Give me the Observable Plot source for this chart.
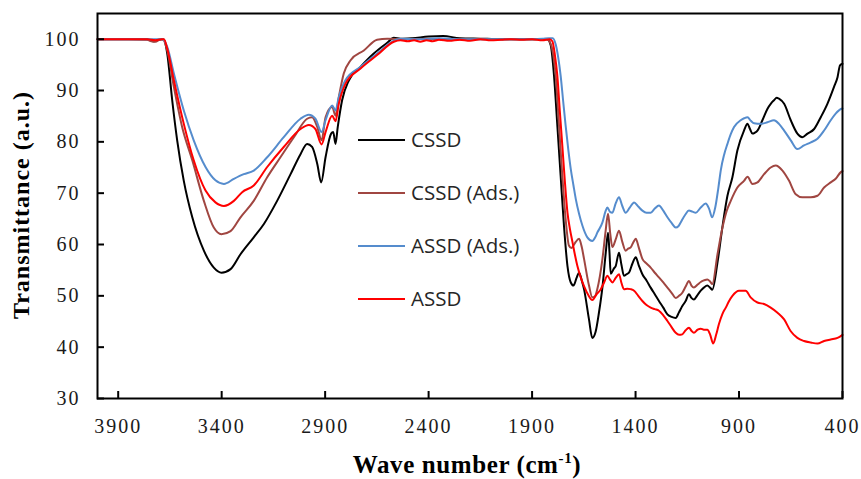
<!DOCTYPE html>
<html><head><meta charset="utf-8">
<script src="https://cdn.jsdelivr.net/npm/d3@7"></script>
<script src="https://cdn.jsdelivr.net/npm/@observablehq/plot@0.6"></script>
<style>
body{margin:0;background:#fff}
#chart{position:relative;width:861px;height:479px}
#chart svg text.tick-num{font-family:"Liberation Serif","Times New Roman",serif !important;letter-spacing:2px;font-size:20px}
</style>
</head><body><div id="chart"></div>
<script>
const seriesNames = ["CSSD", "CSSD (Ads.)", "ASSD (Ads.)", "ASSD"];
const seriesColors = ["#000000", "#A04641", "#558CCD", "#FF0000"];
const xTicks = [3900, 3400, 2900, 2400, 1900, 1400, 900, 400];
const yTicks = [30, 40, 50, 60, 70, 80, 90, 100];

// [wave number, transmittance]
const cssd = [[4000,100],[3850,100],[3760,100],[3740,99.7],[3725,99.6],[3705,99.9],[3690,100],[3679,99.9],[3663,97.2],[3639,88.1],[3615,80.3],[3583,72.4],[3542,65.3],[3486,58.8],[3438,55.5],[3401,54.5],[3357,55.2],[3309,58.1],[3245,61.4],[3196,64.0],[3132,68.5],[3067,73.7],[3019,77.6],[2987,79.6],[2963,79.0],[2938,75.7],[2919,72.1],[2898,77.0],[2871,81.6],[2861,81.9],[2850,79.6],[2839,82.9],[2818,88.1],[2785,92.0],[2729,94.6],[2665,97.2],[2600,99.3],[2568,100.3],[2536,100.1],[2480,100.2],[2400,100.5],[2330,100.6],[2250,100.2],[2150,100.1],[2050,100],[1950,100],[1870,100],[1826,100],[1810,98.8],[1794,92.9],[1778,83.2],[1762,73.4],[1746,63.7],[1729,55.8],[1713,52.6],[1700,52.0],[1685,53.5],[1673,54.5],[1660,53.0],[1649,51.3],[1625,45.4],[1609,41.8],[1593,43.0],[1577,46.7],[1560,51.7],[1544,58.4],[1533,62.3],[1526,58.5],[1520,54.3],[1505,55.3],[1496,55.8],[1480,58.4],[1468,56.0],[1456,53.9],[1444,54.2],[1432,54.5],[1415,56.3],[1399,57.5],[1385,56.0],[1367,54.2],[1347,53.0],[1327,51.6],[1307,50.3],[1287,49.0],[1266,47.7],[1246,46.4],[1226,45.9],[1206,45.7],[1190,46.8],[1174,48.0],[1158,49.0],[1142,50.3],[1130,49.6],[1118,49.3],[1100,50.2],[1085,51.0],[1070,51.6],[1053,52.0],[1040,51.6],[1029,51.2],[1004,56.5],[980,63.5],[956,69.5],[932,73.1],[908,78.3],[876,82.2],[859,83.5],[847,82.5],[835,81.6],[823,81.8],[811,82.2],[787,84.2],[763,86.4],[745,87.5],[731,88.1],[718,88.6],[707,88.4],[682,87.4],[650,84.2],[618,81.6],[594,80.9],[569,81.6],[537,82.5],[505,84.8],[473,87.4],[441,90.7],[424,92.6],[412,94.9],[400,95.2]];

const cssdAds = [[4000,100],[3850,100],[3760,99.9],[3740,99.6],[3720,99.5],[3700,99.9],[3685,100],[3663,97.8],[3631,90.7],[3591,82.9],[3542,76.4],[3486,68.5],[3438,63.3],[3401,62.0],[3357,62.6],[3309,65.3],[3245,68.5],[3180,73.1],[3116,77.0],[3051,80.9],[2987,84.5],[2963,84.8],[2938,82.9],[2917,80.3],[2898,84.8],[2866,86.8],[2850,85.1],[2834,88.7],[2810,93.3],[2777,95.9],[2713,97.8],[2649,99.9],[2600,100.1],[2500,100],[2400,100.1],[2300,99.9],[2200,100],[2100,100],[2000,100],[1900,100],[1830,100],[1815,99.5],[1800,97.5],[1786,92.9],[1770,83.2],[1754,73.4],[1738,65.0],[1722,59.8],[1710,59.3],[1700,59.8],[1689,60.5],[1673,61.1],[1660,59.5],[1649,57.2],[1625,52.0],[1609,49.7],[1595,50.0],[1585,51.3],[1560,57.2],[1545,62.5],[1533,66.0],[1522,62.0],[1512,59.5],[1496,61.0],[1480,62.7],[1464,60.5],[1448,58.8],[1436,59.2],[1424,59.4],[1410,60.5],[1399,61.1],[1385,59.5],[1367,57.2],[1347,56.3],[1327,55.5],[1307,54.5],[1287,53.6],[1266,52.6],[1246,51.6],[1226,50.6],[1206,49.6],[1190,50.0],[1174,50.6],[1158,51.8],[1142,52.9],[1130,52.0],[1118,51.6],[1100,52.2],[1085,52.7],[1070,53.0],[1053,53.2],[1040,52.8],[1029,52.3],[1004,58.1],[980,63.3],[960,66.5],[940,68.5],[908,71.1],[876,72.4],[859,73.2],[835,71.8],[811,72.1],[779,73.7],[747,75.0],[723,75.4],[690,74.4],[658,72.4],[626,69.8],[594,69.2],[553,69.2],[521,69.5],[489,71.1],[457,72.1],[433,72.8],[408,74.1],[400,74.3]];

const assdAds = [[4000,100],[3850,100],[3760,100],[3700,100],[3685,100],[3663,98.5],[3631,93.3],[3583,86.1],[3535,80.3],[3478,75.1],[3430,72.5],[3389,71.8],[3341,72.8],[3293,73.7],[3245,74.4],[3180,77.0],[3100,80.9],[3019,84.5],[2979,85.3],[2947,84.5],[2917,81.9],[2898,84.2],[2866,87.1],[2850,86.1],[2834,88.7],[2802,92.0],[2729,94.6],[2649,97.2],[2568,99.7],[2536,100.1],[2450,100],[2350,100.2],[2250,100],[2150,100],[2050,100],[1950,100],[1850,100.1],[1820,100.2],[1800,100.2],[1786,99.0],[1774,96.5],[1762,92.9],[1750,88.0],[1738,83.2],[1725,78.5],[1713,74.7],[1700,71.5],[1689,68.9],[1673,66.0],[1657,63.7],[1633,61.4],[1609,60.7],[1595,61.4],[1585,62.3],[1560,64.3],[1545,66.5],[1536,67.2],[1524,66.4],[1512,66.2],[1496,68.0],[1480,69.2],[1464,67.5],[1448,66.2],[1428,67.2],[1407,68.2],[1387,67.4],[1367,66.6],[1347,66.2],[1327,66.2],[1307,67.0],[1287,67.6],[1266,66.6],[1246,65.3],[1226,64.2],[1206,63.3],[1192,63.6],[1182,64.3],[1160,65.8],[1142,66.6],[1125,66.4],[1109,66.2],[1085,67.2],[1061,68.0],[1045,67.0],[1030,65.3],[1015,67.2],[1000,71.0],[988,74.5],[972,77.5],[956,79.6],[940,81.5],[924,82.9],[892,84.2],[875,84.6],[859,84.8],[843,84.1],[827,83.6],[795,83.5],[763,83.8],[731,84.2],[707,83.5],[682,82.2],[650,80.3],[618,78.6],[586,79.3],[553,79.9],[521,80.6],[489,82.2],[457,84.2],[433,85.5],[408,86.4],[400,86.5]];

const assd = [[4000,100],[3850,100],[3760,100],[3720,99.8],[3690,100],[3679,100],[3663,98.2],[3631,92.0],[3583,83.5],[3535,76.4],[3478,70.5],[3430,68.2],[3389,67.5],[3341,68.5],[3301,70.2],[3245,71.5],[3180,75.1],[3100,79.0],[3019,82.5],[2979,83.3],[2947,82.5],[2917,79.5],[2898,81.9],[2866,85.1],[2850,84.0],[2834,87.4],[2802,91.3],[2729,94.3],[2649,96.9],[2568,99.5],[2536,99.8],[2500,99.6],[2470,99.8],[2440,99.5],[2410,99.8],[2380,99.6],[2350,99.9],[2300,99.7],[2250,99.9],[2200,99.7],[2150,100],[2100,99.8],[2050,99.9],[2000,100],[1950,99.9],[1900,100],[1850,99.8],[1815,100],[1802,99.6],[1790,97.0],[1778,92.9],[1766,86.0],[1754,79.3],[1742,72.5],[1729,66.2],[1717,63.0],[1705,60.5],[1693,58.0],[1681,55.8],[1665,53.6],[1649,51.9],[1629,50.2],[1609,49.2],[1590,50.2],[1568,51.3],[1552,52.6],[1536,53.9],[1524,53.2],[1512,52.6],[1496,53.5],[1480,54.2],[1468,52.5],[1456,51.3],[1440,51.4],[1424,51.3],[1407,51.0],[1387,50.0],[1367,49.0],[1347,48.2],[1327,47.7],[1307,47.4],[1287,47.1],[1266,46.2],[1246,45.1],[1226,43.9],[1206,42.8],[1190,42.4],[1174,42.5],[1158,43.3],[1142,43.8],[1130,43.2],[1118,42.8],[1100,43.4],[1085,43.6],[1070,43.4],[1053,43.4],[1040,42.5],[1025,40.7],[1010,42.5],[997,44.5],[980,46.5],[964,47.7],[948,49.0],[932,50.0],[900,51.0],[868,51.0],[844,49.7],[811,48.7],[779,48.4],[747,47.7],[714,46.7],[682,45.4],[650,43.1],[618,41.8],[586,41.2],[553,40.9],[521,40.7],[489,41.2],[457,41.5],[424,41.8],[400,42.4]];

const seriesData = [cssd, cssdAds, assdAds, assd];
const data = seriesData.flatMap((arr, i) => arr.map(([wn, t]) => ({wn, t, series: seriesNames[i]})));

const tickFont = "'Liberation Serif', 'Times New Roman', serif";
const chart = Plot.plot({
  width: 861, height: 479,
  marginLeft: 97, marginRight: 19, marginTop: 13, marginBottom: 81,
  x: {domain: [4000, 400], label: null},
  y: {domain: [30, 105], label: null},
  color: {domain: seriesNames, range: seriesColors},
  style: {background: "#fff", color: "#1a1a1a"},
  marks: [
    Plot.line(data, {x: "wn", y: "t", stroke: "series", z: "series", strokeWidth: 2, curve: "monotone-x"}),
    Plot.frame({stroke: "#000", strokeWidth: 2}),
    Plot.axisX(xTicks, {tickSize: 0, tickPadding: 20, label: null, fontSize: 20, tickFormat: d => String(d)}),
    Plot.axisX(xTicks, {tickSize: 7, dy: -7, fill: "none", stroke: "#000", strokeWidth: 2, label: null}),
    Plot.axisY(yTicks, {tickSize: 0, tickPadding: 17, label: null, fontSize: 20, tickFormat: d => String(d)}),
    Plot.axisY(yTicks, {tickSize: 7, dx: 7, fill: "none", stroke: "#000", strokeWidth: 2, label: null})
  ]
});
document.getElementById("chart").appendChild(chart);

const svg = d3.select(chart);
svg.attr("font-family", "Liberation Serif");
// Tick labels: serif, widely spaced
svg.selectAll("text").each(function() {
  if (/^\d+$/.test(this.textContent.trim())) {
    d3.select(this).classed("tick-num", true)
      .attr("font-family", "Liberation Serif")
      .style("font-family", "\"Liberation Serif\", serif")
      .style("letter-spacing", "2px").attr("fill", "#1a1a1a");
  }
});
svg.selectAll("g").filter(function() { return /tick label/.test(this.getAttribute("aria-label") || ""); })
  .attr("font-family", "Liberation Serif").style("font-family", "\"Liberation Serif\", serif");

// Legend (in-plot, Excel style)
const legend = {lineX1: 358, lineX2: 405, textX: 411, y0: 140, step: 53};
const lg = svg.append("g").attr("class", "legend").attr("text-anchor", "start");
seriesNames.forEach((name, i) => {
  const y = legend.y0 + i * legend.step;
  lg.append("line").attr("x1", legend.lineX1).attr("x2", legend.lineX2).attr("y1", y).attr("y2", y)
    .attr("stroke", seriesColors[i]).attr("stroke-width", 2);
  lg.append("text").attr("x", legend.textX).attr("y", y).attr("dy", "0.36em").attr("text-anchor", "start")
    .style("font-family", "'Open Sans', sans-serif").style("font-size", "20.5px").style("letter-spacing", "0px")
    .attr("fill", "#262626").text(name);
});

// Axis titles
const xt = svg.append("text").attr("x", 467).attr("y", 473).attr("text-anchor", "middle")
  .style("font-family", tickFont).style("font-size", "25px").style("font-weight", "bold")
  .style("letter-spacing", "0.6px").attr("fill", "#000");
xt.append("tspan").text("Wave number (cm");
xt.append("tspan").attr("dy", -10).style("font-size", "15px").text("-1");
xt.append("tspan").attr("dy", 10).text(")");

svg.append("text").attr("transform", "translate(29,205) rotate(-90)").attr("text-anchor", "middle")
  .style("font-family", tickFont).style("font-size", "24px").style("font-weight", "bold")
  .style("letter-spacing", "1px").attr("fill", "#000").text("Transmittance (a.u.)");
</script>
</body></html>
